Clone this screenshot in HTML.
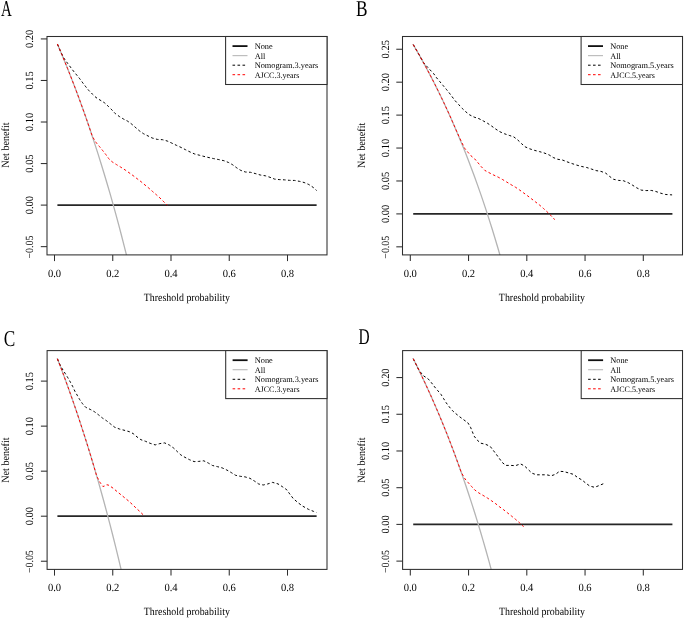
<!DOCTYPE html><html><head><meta charset="utf-8"><style>html,body{margin:0;padding:0;background:#fff;}svg{display:block;will-change:transform;filter:blur(0.3px);}text{font-family:"Liberation Serif", serif;fill:#000;-webkit-font-smoothing:antialiased;text-rendering:geometricPrecision;}</style></head><body>
<svg width="685" height="619" viewBox="0 0 685 619">
<rect width="685" height="619" fill="#fff"/>
<clipPath id="cA"><rect x="47" y="36.5" width="280" height="218.4"/></clipPath>
<line x1="57.41" y1="205.1" x2="316.62" y2="205.1" stroke="#262626" stroke-width="1.7"/>
<polyline points="57.41,44.07 60.33,50.91 63.24,57.88 66.15,65.01 69.06,72.28 71.97,79.7 74.89,87.29 77.8,95.04 80.71,102.96 83.62,111.06 86.54,119.34 89.45,127.81 92.36,136.47 95.28,145.33 98.19,154.4 101.1,163.69 104.01,173.2 106.93,182.95 109.84,192.93 112.75,203.17 115.66,213.66 118.58,224.42 121.49,235.46 124.4,246.8 127.31,258.43 130.23,270.38 133.14,282.66 136.05,295.27 138.96,308.25 141.88,321.59 144.79,335.32 147.7,349.45 150.61,364.01 153.53,379.01 156.44,394.47 159.35,410.41 162.26,426.86 165.18,443.83 168.09,461.37 171,479.49 173.91,498.22 176.83,517.6 179.74,537.66 182.65,558.44 185.56,579.97 188.48,602.3 191.39,625.47 194.3,649.53 197.21,674.54 200.13,700.55 203.04,727.61 205.95,755.81 208.86,785.21 211.78,815.88 214.69,847.92 217.6,881.41 220.51,916.46 223.43,953.18 226.34,991.69 229.25,1032.13 232.16,1074.64 235.08,1119.39 237.99,1166.56 240.9,1216.35 243.81,1268.98 246.73,1324.71 249.64,1383.81 252.55,1446.62 255.46,1513.47 258.38,1584.78 261.29,1661 264.2,1742.67 267.11,1830.4 270.03,1924.86 272.94,2026.89 275.85,2137.42 278.76,2257.56 281.68,2388.62 284.59,2532.17 287.5,2690.06 290.41,2864.58 293.33,3058.49 296.24,3275.22 299.15,3519.03 302.06,3795.35 304.98,4111.15 307.89,4475.53 310.8,4900.64 313.71,5403.04 316.63,6005.93" fill="none" stroke="#b4b4b4" stroke-width="1.3" clip-path="url(#cA)"/>
<polyline points="57.41,44.07 58.87,47.47 60.33,50.91 63.7,57.9 67.6,63.3 73.3,70.9 76.6,74.9 79.8,78.8 82.8,82.9 85.8,86.8 89,90.7 92.4,94.1 96,97.5 100.1,100.1 104.5,102.8 108.3,106.3 111.9,109.9 115.4,113.7 119.5,116.6 123.6,119.1 127.7,121.2 131.8,124.2 135.9,127.8 139.5,130.9 143.5,133.7 148.1,136 152.2,138 157.3,139.4 162.5,139.7 167.2,141 171.8,143.1 176.4,145.3 181,147.4 185.5,149.7 190.1,152 194.7,154 199.3,155.2 203.9,156.4 209,157.6 213.6,158.6 218.8,159.6 223.9,160.7 228.6,162.5 232.7,164.8 236.8,167.9 240.8,170.4 245.4,172 250.5,172.3 255.1,173.5 260.3,175 265.4,175.8 270,177.3 274.6,179.1 279.2,179.6 284.5,179.85 289.6,180.35 294.6,180.45 299.3,181.3 304.1,182.5 308.8,184.5 313.2,187.4 316.6,190.5" fill="none" stroke="#000" stroke-width="1.0" stroke-dasharray="2.6 2.4"/>
<polyline points="57.41,44.07 58.87,47.47 60.33,50.91 61.78,54.38 63.24,57.88 64.69,61.43 66.15,65.01 67.61,68.62 69.06,72.28 70.52,75.97 71.97,79.7 73.43,83.48 74.89,87.29 76.34,91.14 77.8,95.04 79.26,98.98 80.71,102.96 82.17,106.99 83.62,111.06 85.08,115.18 86.54,119.34 87.99,123.55 89.45,127.81 90.91,132.11 92.36,136.47 96.3,142.8 99.5,146.6 102.8,150.7 105.8,154.5 108.6,158.5 112.1,161.8 116.5,164.6 120.5,167 125.2,170 129,172.7 133.1,175.6 137.1,178.7 141.2,181.8 145,185 148.8,188.1 152.6,191.5 156.3,194.7 160,198 163.8,201.8 167.2,205.2" fill="none" stroke="#ff0000" stroke-width="1.0" stroke-dasharray="2.6 2.4"/>
<rect x="47" y="36.5" width="280" height="218.4" fill="none" stroke="#2e2e2e" stroke-width="1.05"/>
<line x1="54.5" y1="254.9" x2="54.5" y2="261.1" stroke="#2e2e2e" stroke-width="1.05"/>
<text transform="translate(54.5 276.7) scale(0.96 1)" font-size="11" text-anchor="middle">0.0</text>
<line x1="112.75" y1="254.9" x2="112.75" y2="261.1" stroke="#2e2e2e" stroke-width="1.05"/>
<text transform="translate(112.75 276.7) scale(0.96 1)" font-size="11" text-anchor="middle">0.2</text>
<line x1="171" y1="254.9" x2="171" y2="261.1" stroke="#2e2e2e" stroke-width="1.05"/>
<text transform="translate(171 276.7) scale(0.96 1)" font-size="11" text-anchor="middle">0.4</text>
<line x1="229.25" y1="254.9" x2="229.25" y2="261.1" stroke="#2e2e2e" stroke-width="1.05"/>
<text transform="translate(229.25 276.7) scale(0.96 1)" font-size="11" text-anchor="middle">0.6</text>
<line x1="287.5" y1="254.9" x2="287.5" y2="261.1" stroke="#2e2e2e" stroke-width="1.05"/>
<text transform="translate(287.5 276.7) scale(0.96 1)" font-size="11" text-anchor="middle">0.8</text>
<line x1="40.8" y1="246.64" x2="47" y2="246.64" stroke="#2e2e2e" stroke-width="1.05"/>
<text transform="translate(32.9 247.04) rotate(-90) scale(0.9 1)" font-size="11" text-anchor="middle">−0.05</text>
<line x1="40.8" y1="205.1" x2="47" y2="205.1" stroke="#2e2e2e" stroke-width="1.05"/>
<text transform="translate(32.9 205.1) rotate(-90) scale(0.95 1)" font-size="11" text-anchor="middle">0.00</text>
<line x1="40.8" y1="163.56" x2="47" y2="163.56" stroke="#2e2e2e" stroke-width="1.05"/>
<text transform="translate(32.9 163.56) rotate(-90) scale(0.95 1)" font-size="11" text-anchor="middle">0.05</text>
<line x1="40.8" y1="122.01" x2="47" y2="122.01" stroke="#2e2e2e" stroke-width="1.05"/>
<text transform="translate(32.9 122.01) rotate(-90) scale(0.95 1)" font-size="11" text-anchor="middle">0.10</text>
<line x1="40.8" y1="80.47" x2="47" y2="80.47" stroke="#2e2e2e" stroke-width="1.05"/>
<text transform="translate(32.9 80.47) rotate(-90) scale(0.95 1)" font-size="11" text-anchor="middle">0.15</text>
<line x1="40.8" y1="38.92" x2="47" y2="38.92" stroke="#2e2e2e" stroke-width="1.05"/>
<text transform="translate(32.9 38.92) rotate(-90) scale(0.95 1)" font-size="11" text-anchor="middle">0.20</text>
<text transform="translate(186.8 301) scale(0.9 1)" font-size="11" text-anchor="middle">Threshold probability</text>
<text transform="translate(9.2 145.1) rotate(-90) scale(0.92 1)" font-size="11" text-anchor="middle">Net benefit</text>
<rect x="225.6" y="36.5" width="101.4" height="48" fill="#fff" stroke="#2e2e2e" stroke-width="1.05"/>
<line x1="232.5" y1="46.1" x2="247.5" y2="46.1" stroke="#111" stroke-width="1.8"/>
<line x1="232.5" y1="55.6" x2="247.5" y2="55.6" stroke="#bebebe" stroke-width="1.2"/>
<line x1="232.5" y1="65.2" x2="247.5" y2="65.2" stroke="#000" stroke-width="1" stroke-dasharray="2.6 2.4"/>
<line x1="232.5" y1="74.7" x2="247.5" y2="74.7" stroke="#f00" stroke-width="1" stroke-dasharray="2.6 2.4"/>
<text transform="translate(254.7 49) scale(1 1)" font-size="8.3">None</text>
<text transform="translate(254.7 58.5) scale(1 1)" font-size="8.3">All</text>
<text transform="translate(254.7 68.1) scale(1 1)" font-size="8.3">Nomogram.3.years</text>
<text transform="translate(254.7 77.6) scale(0.97 1)" font-size="8.3">AJCC.3.years</text>
<text transform="translate(1 15.8) scale(0.66 1)" font-size="22.7">A</text>
<clipPath id="cB"><rect x="402.5" y="36.5" width="280" height="218.4"/></clipPath>
<line x1="413.21" y1="213.9" x2="672.42" y2="213.9" stroke="#262626" stroke-width="1.7"/>
<polyline points="413.21,44.57 416.12,49.57 419.04,54.66 421.95,59.86 424.86,65.17 427.78,70.6 430.69,76.14 433.6,81.8 436.51,87.59 439.43,93.5 442.34,99.55 445.25,105.73 448.16,112.06 451.07,118.53 453.99,125.16 456.9,131.94 459.81,138.89 462.73,146.01 465.64,153.3 468.55,160.78 471.46,168.44 474.38,176.3 477.29,184.37 480.2,192.64 483.11,201.14 486.03,209.87 488.94,218.84 491.85,228.05 494.76,237.53 497.68,247.27 500.59,257.3 503.5,267.63 506.41,278.26 509.33,289.21 512.24,300.5 515.15,312.15 518.06,324.16 520.98,336.56 523.89,349.37 526.8,362.6 529.71,376.29 532.63,390.44 535.54,405.09 538.45,420.27 541.36,435.99 544.28,452.3 547.19,469.23 550.1,486.8 553.01,505.07 555.93,524.06 558.84,543.83 561.75,564.43 564.66,585.9 567.58,608.3 570.49,631.7 573.4,656.17 576.31,681.77 579.23,708.59 582.14,736.72 585.05,766.25 587.96,797.3 590.88,829.99 593.79,864.44 596.7,900.8 599.61,939.25 602.53,979.95 605.44,1023.12 608.35,1068.99 611.26,1117.82 614.18,1169.9 617.09,1225.58 620,1285.23 622.91,1349.3 625.83,1418.3 628.74,1492.82 631.65,1573.56 634.56,1661.31 637.48,1757.03 640.39,1861.88 643.3,1977.21 646.21,2104.67 649.13,2246.31 652.04,2404.6 654.95,2582.68 657.86,2784.51 660.78,3015.17 663.69,3281.31 666.6,3591.81 669.51,3958.77 672.43,4399.11" fill="none" stroke="#b4b4b4" stroke-width="1.3" clip-path="url(#cB)"/>
<polyline points="413.21,44.57 414.67,47.06 416.12,49.57 417.58,52.1 419.04,54.66 420.49,57.25 421.95,59.86 423.41,62.51 426.7,66.2 430.2,70 433.7,73.7 436.6,77.8 439.8,81.6 443,85.4 446.3,89.3 449.4,93.1 452.3,97 455.2,100.8 458.8,104.7 462.2,108.4 465.8,111.8 469.7,114.9 474.1,117.1 479,118.7 483.6,121.1 487.7,123.4 491.8,126.2 495.9,129.2 500,131.8 504.6,133.8 509.2,135.4 513.8,136.9 517.8,140 521.5,143.6 525.1,146.8 529.7,148.8 534.3,150.3 539.4,151.6 544,152.9 549.1,154.9 553.2,157.5 557.8,159.3 562.4,160 567,161.8 572.1,163.6 576.7,165.1 581.3,166.4 586.7,167.5 591.3,169 596.1,170.6 601,171.4 605.8,173.2 609.7,176.5 613.6,179.3 618.5,180.4 623.3,180.7 628.1,182.6 632.4,185.1 636.5,187.7 641.1,190.1 646.1,190.6 651.2,190.4 655.9,191.5 660.7,193.2 665.8,194.5 670.9,194.8 672.1,194.9" fill="none" stroke="#000" stroke-width="1.0" stroke-dasharray="2.6 2.4"/>
<polyline points="413.21,44.57 414.67,47.06 416.12,49.57 417.58,52.1 419.04,54.66 420.49,57.25 421.95,59.86 423.41,62.51 424.86,65.17 426.32,67.87 427.78,70.6 429.23,73.35 430.69,76.14 432.14,78.96 433.6,81.8 435.06,84.68 436.51,87.59 437.97,90.53 439.43,93.5 440.88,96.51 442.34,99.55 443.79,102.62 445.25,105.73 446.71,108.88 448.16,112.06 449.62,115.28 451.08,118.53 452.53,121.83 453.99,125.16 455.44,128.53 456.9,131.94 460.6,140 464.6,148.2 467.9,152.2 471,155.8 474.7,158.9 478.1,162.9 481.2,166.6 484.8,170.4 488.7,172.5 493.2,174.8 498.1,177.1 502.3,179.4 506.7,182 511.1,184.7 515.6,187.3 519.6,190 523.6,192.9 527.6,195.8 531.6,198.9 535.6,202 539.6,205.1 543.4,208.4 547.1,211.8 550.7,215.3 554.2,219.1 554.9,219.7" fill="none" stroke="#ff0000" stroke-width="1.0" stroke-dasharray="2.6 2.4"/>
<rect x="402.5" y="36.5" width="280" height="218.4" fill="none" stroke="#2e2e2e" stroke-width="1.05"/>
<line x1="410.3" y1="254.9" x2="410.3" y2="261.1" stroke="#2e2e2e" stroke-width="1.05"/>
<text transform="translate(410.3 276.7) scale(0.96 1)" font-size="11" text-anchor="middle">0.0</text>
<line x1="468.55" y1="254.9" x2="468.55" y2="261.1" stroke="#2e2e2e" stroke-width="1.05"/>
<text transform="translate(468.55 276.7) scale(0.96 1)" font-size="11" text-anchor="middle">0.2</text>
<line x1="526.8" y1="254.9" x2="526.8" y2="261.1" stroke="#2e2e2e" stroke-width="1.05"/>
<text transform="translate(526.8 276.7) scale(0.96 1)" font-size="11" text-anchor="middle">0.4</text>
<line x1="585.05" y1="254.9" x2="585.05" y2="261.1" stroke="#2e2e2e" stroke-width="1.05"/>
<text transform="translate(585.05 276.7) scale(0.96 1)" font-size="11" text-anchor="middle">0.6</text>
<line x1="643.3" y1="254.9" x2="643.3" y2="261.1" stroke="#2e2e2e" stroke-width="1.05"/>
<text transform="translate(643.3 276.7) scale(0.96 1)" font-size="11" text-anchor="middle">0.8</text>
<line x1="396.3" y1="246.83" x2="402.5" y2="246.83" stroke="#2e2e2e" stroke-width="1.05"/>
<text transform="translate(389 247.23) rotate(-90) scale(0.9 1)" font-size="11" text-anchor="middle">−0.05</text>
<line x1="396.3" y1="213.9" x2="402.5" y2="213.9" stroke="#2e2e2e" stroke-width="1.05"/>
<text transform="translate(389 213.9) rotate(-90) scale(0.95 1)" font-size="11" text-anchor="middle">0.00</text>
<line x1="396.3" y1="180.97" x2="402.5" y2="180.97" stroke="#2e2e2e" stroke-width="1.05"/>
<text transform="translate(389 180.97) rotate(-90) scale(0.95 1)" font-size="11" text-anchor="middle">0.05</text>
<line x1="396.3" y1="148.04" x2="402.5" y2="148.04" stroke="#2e2e2e" stroke-width="1.05"/>
<text transform="translate(389 148.04) rotate(-90) scale(0.95 1)" font-size="11" text-anchor="middle">0.10</text>
<line x1="396.3" y1="115.11" x2="402.5" y2="115.11" stroke="#2e2e2e" stroke-width="1.05"/>
<text transform="translate(389 115.11) rotate(-90) scale(0.95 1)" font-size="11" text-anchor="middle">0.15</text>
<line x1="396.3" y1="82.18" x2="402.5" y2="82.18" stroke="#2e2e2e" stroke-width="1.05"/>
<text transform="translate(389 82.18) rotate(-90) scale(0.95 1)" font-size="11" text-anchor="middle">0.20</text>
<line x1="396.3" y1="49.25" x2="402.5" y2="49.25" stroke="#2e2e2e" stroke-width="1.05"/>
<text transform="translate(389 49.25) rotate(-90) scale(0.95 1)" font-size="11" text-anchor="middle">0.25</text>
<text transform="translate(541.9 301) scale(0.9 1)" font-size="11" text-anchor="middle">Threshold probability</text>
<text transform="translate(364.7 145.3) rotate(-90) scale(0.92 1)" font-size="11" text-anchor="middle">Net benefit</text>
<rect x="581.1" y="36.5" width="101.4" height="48" fill="#fff" stroke="#2e2e2e" stroke-width="1.05"/>
<line x1="588" y1="46.1" x2="603" y2="46.1" stroke="#111" stroke-width="1.8"/>
<line x1="588" y1="55.6" x2="603" y2="55.6" stroke="#bebebe" stroke-width="1.2"/>
<line x1="588" y1="65.2" x2="603" y2="65.2" stroke="#000" stroke-width="1" stroke-dasharray="2.6 2.4"/>
<line x1="588" y1="74.7" x2="603" y2="74.7" stroke="#f00" stroke-width="1" stroke-dasharray="2.6 2.4"/>
<text transform="translate(610.2 49) scale(1 1)" font-size="8.3">None</text>
<text transform="translate(610.2 58.5) scale(1 1)" font-size="8.3">All</text>
<text transform="translate(610.2 68.1) scale(1 1)" font-size="8.3">Nomogram.5.years</text>
<text transform="translate(610.2 77.6) scale(0.97 1)" font-size="8.3">AJCC.5.years</text>
<text transform="translate(356 15.7) scale(0.76 1)" font-size="22.7">B</text>
<clipPath id="cC"><rect x="47.1" y="350.6" width="279.9" height="218.8"/></clipPath>
<line x1="57.41" y1="516.2" x2="316.62" y2="516.2" stroke="#262626" stroke-width="1.7"/>
<polyline points="57.41,358.78 60.33,366.36 63.24,374.1 66.15,382 69.06,390.07 71.97,398.31 74.89,406.72 77.8,415.32 80.71,424.11 83.62,433.09 86.54,442.28 89.45,451.67 92.36,461.28 95.28,471.12 98.19,481.18 101.1,491.48 104.01,502.04 106.93,512.85 109.84,523.93 112.75,535.28 115.66,546.92 118.58,558.86 121.49,571.11 124.4,583.68 127.31,596.59 130.23,609.85 133.14,623.47 136.05,637.47 138.96,651.86 141.88,666.66 144.79,681.89 147.7,697.58 150.61,713.72 153.53,730.36 156.44,747.51 159.35,765.2 162.26,783.45 165.18,802.28 168.09,821.74 171,841.84 173.91,862.62 176.83,884.12 179.74,906.38 182.65,929.43 185.56,953.32 188.48,978.09 191.39,1003.8 194.3,1030.49 197.21,1058.23 200.13,1087.09 203.04,1117.12 205.95,1148.4 208.86,1181.01 211.78,1215.04 214.69,1250.59 217.6,1287.74 220.51,1326.63 223.43,1367.37 226.34,1410.1 229.25,1454.96 232.16,1502.12 235.08,1551.77 237.99,1604.1 240.9,1659.33 243.81,1717.72 246.73,1779.55 249.64,1845.13 252.55,1914.8 255.46,1988.97 258.38,2068.08 261.29,2152.65 264.2,2243.25 267.11,2340.58 270.03,2445.38 272.94,2558.57 275.85,2681.2 278.76,2814.48 281.68,2959.89 284.59,3119.14 287.5,3294.32 290.41,3487.93 293.33,3703.06 296.24,3943.5 299.15,4214 302.06,4520.56 304.98,4870.91 307.89,5275.16 310.8,5746.79 313.71,6304.18 316.63,6973.03" fill="none" stroke="#b4b4b4" stroke-width="1.3" clip-path="url(#cC)"/>
<polyline points="57.41,358.78 58.87,362.55 62.3,368.9 65.1,373.3 67.9,377.8 70.4,382.2 72.8,386.7 74.8,391.1 77.2,395.2 79.7,399.6 82.5,403.7 85.7,407.3 90.2,409.4 94.4,411.7 98.6,414.9 102.4,418 106.6,420.8 110.7,424.1 114.8,427.3 119.4,429 124,430.2 129.1,431.6 133.2,433.6 137,436.9 140.9,439.7 145.5,441.3 150.1,443.3 155.2,444.9 159.8,443.6 164.6,442.9 169.3,445 173.7,448.1 177.3,451.6 180.8,454.9 184.9,457.3 189.5,459.7 194.1,461.6 198.7,461.4 203.8,460.8 208.4,463.1 212.5,465.5 217.6,466.7 222.2,467.9 226.8,470 231.3,472.6 235.6,475.3 240.3,476.3 245.1,476.9 249.9,478.3 254.4,481 258.7,484 263.2,485 267.6,484 272.6,482.4 278,483.9 282.7,486.9 286.8,489.8 289.7,493.9 293.2,498.5 297.9,502.6 302.6,506.1 308.4,509.3 313.6,511.4 316.6,512.5" fill="none" stroke="#000" stroke-width="1.0" stroke-dasharray="2.6 2.4"/>
<polyline points="57.41,358.78 58.87,362.55 60.33,366.36 61.78,370.21 63.24,374.1 64.69,378.03 66.15,382 67.61,386.01 69.06,390.07 70.52,394.16 71.97,398.31 73.43,402.49 74.89,406.72 76.34,411 77.8,415.32 79.26,419.69 80.71,424.11 82.17,428.58 83.62,433.09 85.08,437.66 86.54,442.28 87.99,446.95 89.45,451.67 90.91,456.45 92.36,461.28 93.82,466.17 95.28,471.12 96.73,476.12 99.9,482.2 102.9,486.5 105.6,485.7 106.8,484.7 108.9,485.3 113.1,488.2 117,491.5 120.9,494.7 124.7,497.8 128.6,501 132.3,504.4 135.8,507.8 139.6,511.3 143.3,514.9 144.2,516" fill="none" stroke="#ff0000" stroke-width="1.0" stroke-dasharray="2.6 2.4"/>
<rect x="47.1" y="350.6" width="279.9" height="218.8" fill="none" stroke="#2e2e2e" stroke-width="1.05"/>
<line x1="54.5" y1="569.4" x2="54.5" y2="575.6" stroke="#2e2e2e" stroke-width="1.05"/>
<text transform="translate(54.5 591.2) scale(0.96 1)" font-size="11" text-anchor="middle">0.0</text>
<line x1="112.75" y1="569.4" x2="112.75" y2="575.6" stroke="#2e2e2e" stroke-width="1.05"/>
<text transform="translate(112.75 591.2) scale(0.96 1)" font-size="11" text-anchor="middle">0.2</text>
<line x1="171" y1="569.4" x2="171" y2="575.6" stroke="#2e2e2e" stroke-width="1.05"/>
<text transform="translate(171 591.2) scale(0.96 1)" font-size="11" text-anchor="middle">0.4</text>
<line x1="229.25" y1="569.4" x2="229.25" y2="575.6" stroke="#2e2e2e" stroke-width="1.05"/>
<text transform="translate(229.25 591.2) scale(0.96 1)" font-size="11" text-anchor="middle">0.6</text>
<line x1="287.5" y1="569.4" x2="287.5" y2="575.6" stroke="#2e2e2e" stroke-width="1.05"/>
<text transform="translate(287.5 591.2) scale(0.96 1)" font-size="11" text-anchor="middle">0.8</text>
<line x1="40.9" y1="561.23" x2="47.1" y2="561.23" stroke="#2e2e2e" stroke-width="1.05"/>
<text transform="translate(33 561.63) rotate(-90) scale(0.9 1)" font-size="11" text-anchor="middle">−0.05</text>
<line x1="40.9" y1="516.2" x2="47.1" y2="516.2" stroke="#2e2e2e" stroke-width="1.05"/>
<text transform="translate(33 516.2) rotate(-90) scale(0.95 1)" font-size="11" text-anchor="middle">0.00</text>
<line x1="40.9" y1="471.17" x2="47.1" y2="471.17" stroke="#2e2e2e" stroke-width="1.05"/>
<text transform="translate(33 471.17) rotate(-90) scale(0.95 1)" font-size="11" text-anchor="middle">0.05</text>
<line x1="40.9" y1="426.14" x2="47.1" y2="426.14" stroke="#2e2e2e" stroke-width="1.05"/>
<text transform="translate(33 426.14) rotate(-90) scale(0.95 1)" font-size="11" text-anchor="middle">0.10</text>
<line x1="40.9" y1="381.11" x2="47.1" y2="381.11" stroke="#2e2e2e" stroke-width="1.05"/>
<text transform="translate(33 381.11) rotate(-90) scale(0.95 1)" font-size="11" text-anchor="middle">0.15</text>
<text transform="translate(186.85 614.6) scale(0.9 1)" font-size="11" text-anchor="middle">Threshold probability</text>
<text transform="translate(9.3 460.1) rotate(-90) scale(0.92 1)" font-size="11" text-anchor="middle">Net benefit</text>
<rect x="225.7" y="350.6" width="101.3" height="48" fill="#fff" stroke="#2e2e2e" stroke-width="1.05"/>
<line x1="232.6" y1="360.2" x2="247.6" y2="360.2" stroke="#111" stroke-width="1.8"/>
<line x1="232.6" y1="369.7" x2="247.6" y2="369.7" stroke="#bebebe" stroke-width="1.2"/>
<line x1="232.6" y1="379.3" x2="247.6" y2="379.3" stroke="#000" stroke-width="1" stroke-dasharray="2.6 2.4"/>
<line x1="232.6" y1="388.8" x2="247.6" y2="388.8" stroke="#f00" stroke-width="1" stroke-dasharray="2.6 2.4"/>
<text transform="translate(254.8 363.1) scale(1 1)" font-size="8.3">None</text>
<text transform="translate(254.8 372.6) scale(1 1)" font-size="8.3">All</text>
<text transform="translate(254.8 382.2) scale(1 1)" font-size="8.3">Nomogram.3.years</text>
<text transform="translate(254.8 391.7) scale(0.97 1)" font-size="8.3">AJCC.3.years</text>
<text transform="translate(3.8 346) scale(0.76 1)" font-size="22.7">C</text>
<clipPath id="cD"><rect x="402.6" y="350.6" width="279.9" height="218.8"/></clipPath>
<line x1="413.21" y1="524.4" x2="672.42" y2="524.4" stroke="#262626" stroke-width="1.7"/>
<polyline points="413.21,358.69 416.12,364.49 419.04,370.41 421.95,376.46 424.86,382.63 427.78,388.93 430.69,395.37 433.6,401.95 436.51,408.67 439.43,415.54 442.34,422.57 445.25,429.75 448.16,437.1 451.07,444.63 453.99,452.32 456.9,460.21 459.81,468.28 462.73,476.55 465.64,485.02 468.55,493.71 471.46,502.61 474.38,511.75 477.29,521.12 480.2,530.73 483.11,540.61 486.03,550.75 488.94,561.17 491.85,571.88 494.76,582.88 497.68,594.21 500.59,605.86 503.5,617.86 506.41,630.21 509.33,642.94 512.24,656.06 515.15,669.58 518.06,683.54 520.98,697.95 523.89,712.83 526.8,728.21 529.71,744.11 532.63,760.56 535.54,777.58 538.45,795.21 541.36,813.48 544.28,832.43 547.19,852.1 550.1,872.52 553.01,893.74 555.93,915.81 558.84,938.78 561.75,962.71 564.66,987.66 567.58,1013.69 570.49,1040.88 573.4,1069.3 576.31,1099.05 579.23,1130.21 582.14,1162.9 585.05,1197.22 587.96,1233.29 590.88,1271.27 593.79,1311.3 596.7,1353.55 599.61,1398.22 602.53,1445.51 605.44,1495.67 608.35,1548.97 611.26,1605.7 614.18,1666.22 617.09,1730.91 620,1800.22 622.91,1874.67 625.83,1954.84 628.74,2041.42 631.65,2135.23 634.56,2237.18 637.48,2348.41 640.39,2470.23 643.3,2604.23 646.21,2752.34 649.13,2916.9 652.04,3100.82 654.95,3307.74 657.86,3542.24 660.78,3810.24 663.69,4119.48 666.6,4480.25 669.51,4906.62 672.43,5418.26" fill="none" stroke="#b4b4b4" stroke-width="1.3" clip-path="url(#cD)"/>
<polyline points="413.21,358.69 414.67,361.58 416.12,364.49 417.58,367.44 419.04,370.41 423.7,376 427.9,378.6 431.5,382.8 434.7,387 437.8,390.7 441,394.4 443.6,398.6 446.2,402.8 449.4,407 452.5,410.7 456,413.8 459.7,416.8 463.9,419.9 467.9,422.8 470.5,427.2 472.3,431.6 474.1,436.1 477.2,440.1 480.8,443.2 485.6,444.3 490.1,446.3 493.2,450.3 496.2,454.2 499.2,458.3 502.2,462.4 505.7,465.4 510.8,465.4 515.4,465.7 520.5,463.9 524.6,466 528.2,469.5 531.8,473.1 536.4,474.8 541.5,474.8 546.6,474.8 551.2,475.8 555.7,474.2 559.5,471.3 564,471.6 568.8,473 573.6,474.4 577.6,477.5 582,480 585.9,483.2 589.8,486.1 594.7,487.3 599,485.6 603.9,483.5 605.1,483.1" fill="none" stroke="#000" stroke-width="1.0" stroke-dasharray="2.6 2.4"/>
<polyline points="413.21,358.69 414.67,361.58 416.12,364.49 417.58,367.44 419.04,370.41 420.49,373.42 421.95,376.46 423.41,379.53 424.86,382.63 426.32,385.76 427.78,388.93 429.23,392.13 430.69,395.37 432.14,398.64 433.6,401.95 435.06,405.29 436.51,408.67 437.97,412.09 439.43,415.54 440.88,419.03 442.34,422.57 443.79,426.14 445.25,429.75 446.71,433.41 448.16,437.1 449.62,440.84 451.08,444.63 452.53,448.45 453.99,452.32 455.44,456.24 456.9,460.21 458.36,464.22 459.81,468.28 461.27,472.39 465,478.9 468.2,482.6 471.5,486.4 474.7,489.9 478.9,493 483.1,495.4 487.4,498 491.6,500.8 495.8,503.8 499.8,507 503.7,509.8 507.7,513 511.6,516.1 515.6,519.4 519.2,522.5 523,526.1 523.6,526.6" fill="none" stroke="#ff0000" stroke-width="1.0" stroke-dasharray="2.6 2.4"/>
<rect x="402.6" y="350.6" width="279.9" height="218.8" fill="none" stroke="#2e2e2e" stroke-width="1.05"/>
<line x1="410.3" y1="569.4" x2="410.3" y2="575.6" stroke="#2e2e2e" stroke-width="1.05"/>
<text transform="translate(410.3 591.2) scale(0.96 1)" font-size="11" text-anchor="middle">0.0</text>
<line x1="468.55" y1="569.4" x2="468.55" y2="575.6" stroke="#2e2e2e" stroke-width="1.05"/>
<text transform="translate(468.55 591.2) scale(0.96 1)" font-size="11" text-anchor="middle">0.2</text>
<line x1="526.8" y1="569.4" x2="526.8" y2="575.6" stroke="#2e2e2e" stroke-width="1.05"/>
<text transform="translate(526.8 591.2) scale(0.96 1)" font-size="11" text-anchor="middle">0.4</text>
<line x1="585.05" y1="569.4" x2="585.05" y2="575.6" stroke="#2e2e2e" stroke-width="1.05"/>
<text transform="translate(585.05 591.2) scale(0.96 1)" font-size="11" text-anchor="middle">0.6</text>
<line x1="643.3" y1="569.4" x2="643.3" y2="575.6" stroke="#2e2e2e" stroke-width="1.05"/>
<text transform="translate(643.3 591.2) scale(0.96 1)" font-size="11" text-anchor="middle">0.8</text>
<line x1="396.4" y1="561.11" x2="402.6" y2="561.11" stroke="#2e2e2e" stroke-width="1.05"/>
<text transform="translate(389.1 561.51) rotate(-90) scale(0.9 1)" font-size="11" text-anchor="middle">−0.05</text>
<line x1="396.4" y1="524.4" x2="402.6" y2="524.4" stroke="#2e2e2e" stroke-width="1.05"/>
<text transform="translate(389.1 524.4) rotate(-90) scale(0.95 1)" font-size="11" text-anchor="middle">0.00</text>
<line x1="396.4" y1="487.69" x2="402.6" y2="487.69" stroke="#2e2e2e" stroke-width="1.05"/>
<text transform="translate(389.1 487.69) rotate(-90) scale(0.95 1)" font-size="11" text-anchor="middle">0.05</text>
<line x1="396.4" y1="450.98" x2="402.6" y2="450.98" stroke="#2e2e2e" stroke-width="1.05"/>
<text transform="translate(389.1 450.98) rotate(-90) scale(0.95 1)" font-size="11" text-anchor="middle">0.10</text>
<line x1="396.4" y1="414.27" x2="402.6" y2="414.27" stroke="#2e2e2e" stroke-width="1.05"/>
<text transform="translate(389.1 414.27) rotate(-90) scale(0.95 1)" font-size="11" text-anchor="middle">0.15</text>
<line x1="396.4" y1="377.56" x2="402.6" y2="377.56" stroke="#2e2e2e" stroke-width="1.05"/>
<text transform="translate(389.1 377.56) rotate(-90) scale(0.95 1)" font-size="11" text-anchor="middle">0.20</text>
<text transform="translate(541.95 614.6) scale(0.9 1)" font-size="11" text-anchor="middle">Threshold probability</text>
<text transform="translate(364.8 460.1) rotate(-90) scale(0.92 1)" font-size="11" text-anchor="middle">Net benefit</text>
<rect x="581.2" y="350.6" width="101.3" height="48" fill="#fff" stroke="#2e2e2e" stroke-width="1.05"/>
<line x1="588.1" y1="360.2" x2="603.1" y2="360.2" stroke="#111" stroke-width="1.8"/>
<line x1="588.1" y1="369.7" x2="603.1" y2="369.7" stroke="#bebebe" stroke-width="1.2"/>
<line x1="588.1" y1="379.3" x2="603.1" y2="379.3" stroke="#000" stroke-width="1" stroke-dasharray="2.6 2.4"/>
<line x1="588.1" y1="388.8" x2="603.1" y2="388.8" stroke="#f00" stroke-width="1" stroke-dasharray="2.6 2.4"/>
<text transform="translate(610.3 363.1) scale(1 1)" font-size="8.3">None</text>
<text transform="translate(610.3 372.6) scale(1 1)" font-size="8.3">All</text>
<text transform="translate(610.3 382.2) scale(1 1)" font-size="8.3">Nomogram.5.years</text>
<text transform="translate(610.3 391.7) scale(0.97 1)" font-size="8.3">AJCC.5.years</text>
<text transform="translate(358.5 343.8) scale(0.68 1)" font-size="22.7">D</text>
</svg></body></html>
